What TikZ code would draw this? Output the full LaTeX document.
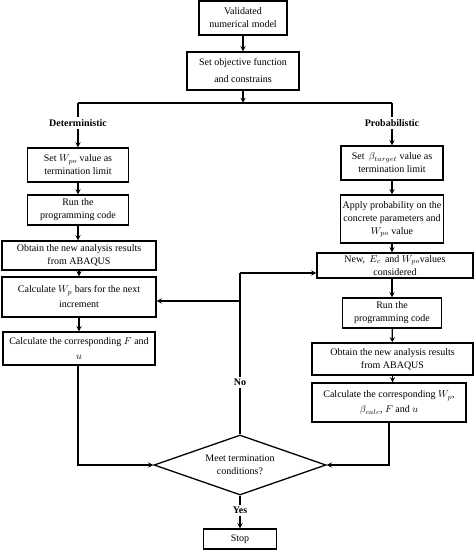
\documentclass[tikz,border=0pt]{standalone}
\usepackage{fontspec}
\setmainfont{Liberation Serif}
\usepackage{tikz}
\usetikzlibrary{shapes.geometric, arrows}
\tikzstyle{arrow} = [line width=1.3pt,->,>=stealth]
\tikzstyle{line} = [line width=1.3pt]
\tikzstyle{box} = [rectangle, draw=black, line width=1.3pt, align=center, inner sep=1pt, font=\fontsize{10}{13}\selectfont]
\tikzstyle{decision} = [diamond, draw=black, line width=1.3pt, align=center, inner sep=0pt, aspect=2.9, font=\fontsize{10}{13}\selectfont]
\tikzstyle{tag} = [fill=white, inner sep=2pt, font=\fontsize{10}{12}\selectfont\bfseries]

\begin{document}
\begin{tikzpicture}[x=1pt, y=-1pt]
		\useasboundingbox (0,0) rectangle (474,551);
		\node (valid) [box, minimum width=88pt, minimum height=34pt] at (243,18) {Validated\\numerical model};
		\node (objective) [box, minimum width=112pt, minimum height=38pt, font=\fontsize{10}{17}\selectfont] at (243,71) {Set objective function\\and constrains};
		\coordinate (split) at (243,103);
		\coordinate (splitL) at (78,103);
		\coordinate (splitR) at (392,103);
		\node (det) [tag] at (78,123) {Deterministic};
		\node (prob) [tag] at (392,123) {Probabilistic};
		\node (setW) [box, minimum width=101pt, minimum height=34pt] at (78,165) {Set $W_{po}$ value as\\termination limit};
		\node (runL) [box, minimum width=101pt, minimum height=30pt] at (78,210) {Run the\\programming code};
		\node (obtainL) [box, minimum width=154pt, minimum height=29pt] at (79,255.5) {Obtain the new analysis results\\from ABAQUS};
		\node (calcW) [box, minimum width=154pt, minimum height=40pt, font=\fontsize{10}{15}\selectfont] at (79,297) {Calculate $W_p$ bars for the next\\increment};
		\node (calcF) [box, minimum width=152pt, minimum height=33pt, font=\fontsize{10}{15}\selectfont] at (79,348.5) {Calculate the corresponding $F$ and\\$u$};
		\node (setB) [box, minimum width=102pt, minimum height=34pt] at (392,163) {Set \,$\beta_{target}$ value as\\termination limit};
		\node (apply) [box, minimum width=103pt, minimum height=48pt] at (392,219) {Apply probability on the\\concrete parameters and\\$W_{po}$ value};
		\node (newE) [box, minimum width=156pt, minimum height=25pt] at (395,265.5) {New, \,$E_c$\, and $W_{po}$values\\considered};
		\node (runR) [box, minimum width=99pt, minimum height=30pt] at (392,313) {Run the\\programming code};
		\node (obtainR) [box, minimum width=161pt, minimum height=32pt] at (392.5,359) {Obtain the new analysis results\\from ABAQUS};
		\node (calcR) [box, minimum width=154pt, minimum height=39pt, font=\fontsize{10}{15}\selectfont] at (389,402.5) {Calculate the corresponding $W_p$,\\$\beta_{calc}$, $F$ and $u$};
		\node (meet) [decision, minimum width=172pt, minimum height=60pt] at (240,465) {Meet termination\\conditions?};
		\node (stop) [box, minimum width=73pt, minimum height=20pt] at (240,539) {Stop};
		\coordinate (noTop) at (240,273);
		\coordinate (noMid) at (240,301);
		\draw [arrow] (valid) -- (objective);
		\draw [arrow] (objective) -- (split);
		\draw [line] (splitL) -- (splitR);
		\draw [line] (splitL) -- (det);
		\draw [line] (splitR) -- (prob);
		\draw [arrow] (det) -- (setW);
		\draw [arrow] (prob) -- (setB);
		\draw [arrow] (setW) -- (runL);
		\draw [arrow] (runL.south) -- (runL.south |- obtainL.north);
		\draw [arrow] (obtainL) -- (calcW);
		\draw [arrow] (calcW) -- (calcF);
		\draw [arrow] (setB) -- (apply);
		\draw [arrow] (apply.south) -- (apply.south |- newE.north);
		\draw [arrow] (newE.south -| runR.north) -- (runR.north);
		\draw [arrow] (runR) -- (obtainR);
		\draw [arrow] (obtainR.south) -- (obtainR.south |- calcR.north);
		\draw [arrow] (calcF.south -| 78,0) |- (meet.west);
		\draw [arrow] (calcR.south) |- (meet.east);
		\draw [line] (meet.north) -- node [tag, pos=0.32] {No} (noTop);
		\draw [arrow] (noTop) -- (noTop -| newE.west);
		\draw [arrow] (noMid) -- (noMid -| calcW.east);
		\draw [arrow] (meet.south) -- node [tag, pos=0.45] {Yes} (stop.north);
	\end{tikzpicture}
\end{document}
